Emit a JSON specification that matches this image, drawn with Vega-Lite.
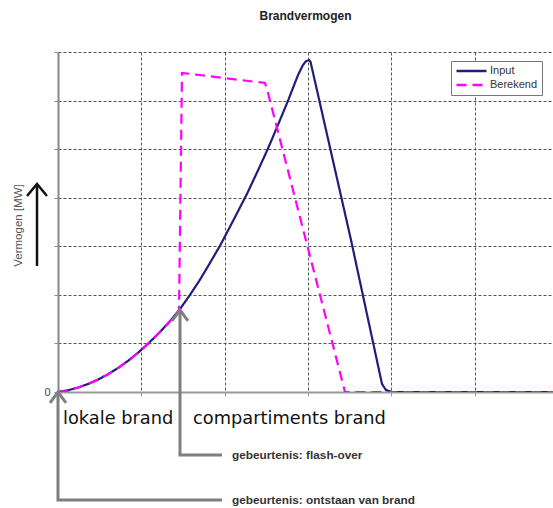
{
  "$schema": "https://vega.github.io/schema/vega-lite/v6.json",
  "autosize": {"type": "none"},
  "padding": {"left": 58, "top": 52, "right": 0, "bottom": 116},
  "width": 495,
  "height": 340,
  "background": "white",
  "title": {"text": "Brandvermogen", "font": "Liberation Sans", "fontSize": 12, "fontWeight": "bold", "color": "#222", "anchor": "middle", "frame": "group", "offset": 29},
  "config": {"view": {"stroke": null}},
  "datasets": {
    "curves": [
      {"s": "Input", "x": 0, "y": 0},
      {"s": "Input", "x": 0.12, "y": 0.035},
      {"s": "Input", "x": 0.24, "y": 0.091},
      {"s": "Input", "x": 0.36, "y": 0.165},
      {"s": "Input", "x": 0.48, "y": 0.255},
      {"s": "Input", "x": 0.6, "y": 0.365},
      {"s": "Input", "x": 0.72, "y": 0.494},
      {"s": "Input", "x": 0.84, "y": 0.64},
      {"s": "Input", "x": 0.96, "y": 0.807},
      {"s": "Input", "x": 1.08, "y": 0.993},
      {"s": "Input", "x": 1.2, "y": 1.194},
      {"s": "Input", "x": 1.33, "y": 1.43},
      {"s": "Input", "x": 1.452, "y": 1.68},
      {"s": "Input", "x": 1.572, "y": 1.97},
      {"s": "Input", "x": 1.692, "y": 2.28},
      {"s": "Input", "x": 1.818, "y": 2.64},
      {"s": "Input", "x": 1.944, "y": 3.011},
      {"s": "Input", "x": 2.106, "y": 3.54},
      {"s": "Input", "x": 2.268, "y": 4.08},
      {"s": "Input", "x": 2.394, "y": 4.54},
      {"s": "Input", "x": 2.52, "y": 5.012},
      {"s": "Input", "x": 2.64, "y": 5.5},
      {"s": "Input", "x": 2.76, "y": 5.996},
      {"s": "Input", "x": 2.88, "y": 6.524},
      {"s": "Input", "x": 2.94, "y": 6.734},
      {"s": "Input", "x": 2.976, "y": 6.81},
      {"s": "Input", "x": 3.012, "y": 6.835},
      {"s": "Input", "x": 3.03, "y": 6.8},
      {"s": "Input", "x": 3.516, "y": 3.13},
      {"s": "Input", "x": 3.888, "y": 0.165},
      {"s": "Input", "x": 3.936, "y": 0.041},
      {"s": "Input", "x": 4.008, "y": 0},
      {"s": "Input", "x": 5.94, "y": 0},
      {"s": "Berekend", "x": 0, "y": 0},
      {"s": "Berekend", "x": 0.12, "y": 0.035},
      {"s": "Berekend", "x": 0.24, "y": 0.091},
      {"s": "Berekend", "x": 0.36, "y": 0.165},
      {"s": "Berekend", "x": 0.48, "y": 0.255},
      {"s": "Berekend", "x": 0.6, "y": 0.365},
      {"s": "Berekend", "x": 0.72, "y": 0.494},
      {"s": "Berekend", "x": 0.84, "y": 0.64},
      {"s": "Berekend", "x": 0.96, "y": 0.807},
      {"s": "Berekend", "x": 1.08, "y": 0.993},
      {"s": "Berekend", "x": 1.2, "y": 1.194},
      {"s": "Berekend", "x": 1.33, "y": 1.43},
      {"s": "Berekend", "x": 1.452, "y": 1.68},
      {"s": "Berekend", "x": 1.488, "y": 6.57},
      {"s": "Berekend", "x": 2.484, "y": 6.362},
      {"s": "Berekend", "x": 2.52, "y": 6.156},
      {"s": "Berekend", "x": 3.444, "y": 0},
      {"s": "Berekend", "x": 5.94, "y": 0}
    ],
    "arrows": [
      {"k": "gray", "id": "a1", "o": 1, "x": 1.968, "y": -2.224},
      {"k": "gray", "id": "a1", "o": 2, "x": 0, "y": -2.224},
      {"k": "gray", "id": "a1", "o": 3, "x": 0, "y": 0},
      {"k": "gray", "id": "a2", "o": 1, "x": -0.096, "y": -0.226},
      {"k": "gray", "id": "a2", "o": 2, "x": 0, "y": 0},
      {"k": "gray", "id": "a2", "o": 3, "x": 0.096, "y": -0.226},
      {"k": "gray", "id": "b1", "o": 1, "x": 1.968, "y": -1.297},
      {"k": "gray", "id": "b1", "o": 2, "x": 1.464, "y": -1.297},
      {"k": "gray", "id": "b1", "o": 3, "x": 1.464, "y": 1.688},
      {"k": "gray", "id": "b2", "o": 1, "x": 1.368, "y": 1.462},
      {"k": "gray", "id": "b2", "o": 2, "x": 1.464, "y": 1.688},
      {"k": "gray", "id": "b2", "o": 3, "x": 1.56, "y": 1.462},
      {"k": "black", "id": "c1", "o": 1, "x": -0.252, "y": 2.594},
      {"k": "black", "id": "c1", "o": 2, "x": -0.252, "y": 4.282},
      {"k": "black", "id": "c2", "o": 1, "x": -0.372, "y": 4.035},
      {"k": "black", "id": "c2", "o": 2, "x": -0.252, "y": 4.282},
      {"k": "black", "id": "c2", "o": 3, "x": -0.132, "y": 4.035}
    ],
    "labels": [
      {"k": "big", "t": "lokale brand", "x": 0.06, "y": -0.659},
      {"k": "big", "t": "compartiments brand", "x": 1.62, "y": -0.659},
      {"k": "small", "t": "gebeurtenis: flash-over", "x": 2.088, "y": -1.297},
      {"k": "small", "t": "gebeurtenis: ontstaan van brand", "x": 2.088, "y": -2.224}
    ]
  },
  "encoding": {
    "x": {
      "field": "x", "type": "quantitative",
      "scale": {"domain": [0, 5.94], "nice": false, "zero": false},
      "axis": {
        "values": [1, 2, 3, 4, 5], "labels": false, "title": null,
        "grid": true, "gridColor": "#555", "gridDash": [3, 2], "gridWidth": 1,
        "domainColor": "#9a9a9a", "domainWidth": 2,
        "ticks": true, "tickColor": "#999", "tickSize": 4
      }
    },
    "y": {
      "field": "y", "type": "quantitative",
      "scale": {"domain": [0, 7], "nice": false, "zero": false},
      "axis": {
        "values": [0, 1, 2, 3, 4, 5, 6, 7],
        "labelExpr": "datum.value == 0 ? '0' : ''",
        "labelFont": "Liberation Sans", "labelFontSize": 11, "labelColor": "#444", "labelPadding": 4,
        "grid": true, "gridColor": "#555", "gridDash": [3, 2], "gridWidth": 1,
        "gridOpacity": {"condition": {"test": "datum.value == 0", "value": 0}, "value": 1},
        "domainColor": "#888", "domainWidth": 2,
        "ticks": true, "tickColor": "#888", "tickSize": 4,
        "title": "Vermogen [MW]", "titleFont": "Liberation Sans", "titleFontSize": 11.5,
        "titleFontWeight": "normal", "titleColor": "#555",
        "titleX": -40, "titleY": 173, "titleAngle": 270, "titleBaseline": "middle", "titleAlign": "center"
      }
    }
  },
  "layer": [
    {
      "data": {"name": "curves"},
      "transform": [{"filter": "datum.s == 'Input'"}],
      "mark": {"type": "line", "strokeWidth": 2.2, "clip": true},
      "encoding": {
        "color": {"field": "s", "type": "nominal", "scale": {"domain": ["Input", "Berekend"], "range": ["#1f1f7a", "#ff00ff"]},
          "legend": {"orient": "none", "legendX": 393, "legendY": 9, "title": null, "symbolType": "stroke", "symbolSize": 900, "clipHeight": 12, "symbolStrokeWidth": 2.5, "labelFont": "Liberation Sans", "labelFontSize": 11, "labelColor": "#333", "strokeColor": "#777", "fillColor": "white", "padding": 4, "rowPadding": 2, "labelOffset": 2}},
        "strokeDash": {"field": "s", "type": "nominal", "scale": {"domain": ["Input", "Berekend"], "range": [[1, 0], [10, 6]]},
          "legend": {"orient": "none", "legendX": 393, "legendY": 9, "title": null, "symbolType": "stroke", "symbolSize": 900, "clipHeight": 12, "symbolStrokeWidth": 2.5, "labelFont": "Liberation Sans", "labelFontSize": 11, "labelColor": "#333", "strokeColor": "#777", "fillColor": "white", "padding": 4, "rowPadding": 2, "labelOffset": 2}}
      }
    },
    {
      "data": {"name": "curves"},
      "transform": [{"filter": "datum.s == 'Berekend'"}],
      "mark": {"type": "line", "strokeWidth": 2.2, "clip": true},
      "encoding": {
        "color": {"field": "s", "type": "nominal", "scale": {"domain": ["Input", "Berekend"], "range": ["#1f1f7a", "#ff00ff"]},
          "legend": {"orient": "none", "legendX": 393, "legendY": 9, "title": null, "symbolType": "stroke", "symbolSize": 900, "clipHeight": 12, "symbolStrokeWidth": 2.5, "labelFont": "Liberation Sans", "labelFontSize": 11, "labelColor": "#333", "strokeColor": "#777", "fillColor": "white", "padding": 4, "rowPadding": 2, "labelOffset": 2}},
        "strokeDash": {"field": "s", "type": "nominal", "scale": {"domain": ["Input", "Berekend"], "range": [[1, 0], [10, 6]]},
          "legend": {"orient": "none", "legendX": 393, "legendY": 9, "title": null, "symbolType": "stroke", "symbolSize": 900, "clipHeight": 12, "symbolStrokeWidth": 2.5, "labelFont": "Liberation Sans", "labelFontSize": 11, "labelColor": "#333", "strokeColor": "#777", "fillColor": "white", "padding": 4, "rowPadding": 2, "labelOffset": 2}}
      }
    },
    {
      "data": {"name": "arrows"},
      "transform": [{"filter": "datum.k == 'gray'"}],
      "mark": {"type": "line", "color": "#7f7f7f", "strokeWidth": 3, "strokeJoin": "miter", "clip": false},
      "encoding": {
        "detail": {"field": "id", "type": "nominal"},
        "order": {"field": "o", "type": "quantitative"}
      }
    },
    {
      "data": {"name": "arrows"},
      "transform": [{"filter": "datum.k == 'black'"}],
      "mark": {"type": "line", "color": "#111", "strokeWidth": 2.5, "strokeJoin": "miter", "clip": false},
      "encoding": {
        "detail": {"field": "id", "type": "nominal"},
        "order": {"field": "o", "type": "quantitative"}
      }
    },
    {
      "data": {"name": "labels"},
      "transform": [{"filter": "datum.k == 'big'"}],
      "mark": {"type": "text", "font": "DejaVu Sans", "fontSize": 17.8, "color": "#111", "align": "left", "baseline": "alphabetic", "clip": false},
      "encoding": {"text": {"field": "t"}}
    },
    {
      "data": {"name": "labels"},
      "transform": [{"filter": "datum.k == 'small'"}],
      "mark": {"type": "text", "font": "Liberation Sans", "fontSize": 11.8, "fontWeight": "bold", "color": "#333", "align": "left", "baseline": "middle", "clip": false},
      "encoding": {"text": {"field": "t"}}
    }
  ]
}
